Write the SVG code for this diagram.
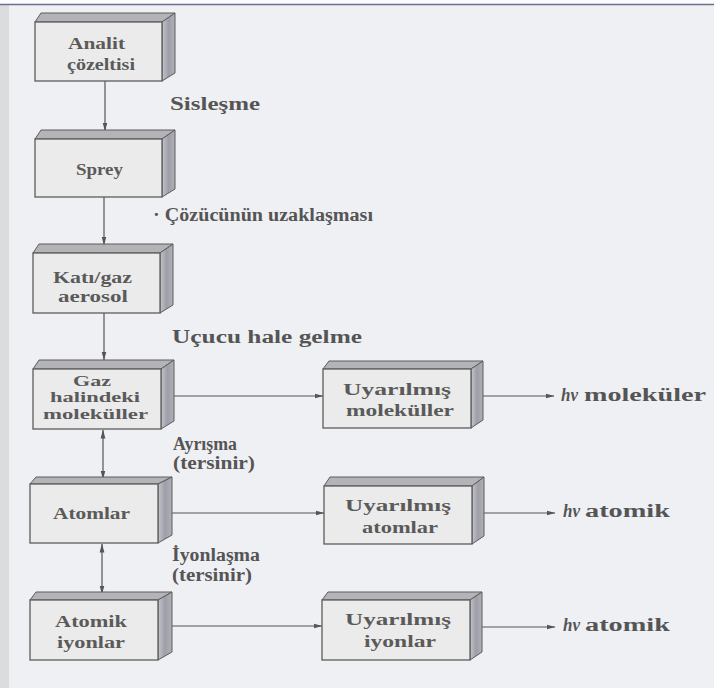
<svg xmlns="http://www.w3.org/2000/svg" width="714" height="688" viewBox="0 0 714 688">
<defs>
<style>
.front{fill:#ebebeb;stroke:#5c5c5c;stroke-width:1.3}
.top{fill:#b4b4b8;stroke:#5c5c5c;stroke-width:1}
.side{fill:url(#sideg);stroke:#5c5c5c;stroke-width:1}
.t{font-family:"Liberation Serif","Times New Roman",serif;font-weight:bold;fill:#5a5a5a;font-size:17px}
.s{font-size:15px}
.l{font-family:"Liberation Serif","Times New Roman",serif;font-weight:bold;fill:#555;font-size:18px}
.it{font-style:italic}
.c{stroke:#555;stroke-width:1.2;fill:none}
</style>
<linearGradient id="sideg" x1="0" y1="0" x2="1" y2="0">
<stop offset="0" stop-color="#c4c4cc"/>
<stop offset="0.5" stop-color="#9e9ea8"/>
<stop offset="1" stop-color="#b0b0b8"/>
</linearGradient>
<marker id="ah" markerWidth="9" markerHeight="6" refX="8.5" refY="3" orient="auto" markerUnits="userSpaceOnUse">
<path d="M0,0.6 L9,3 L0,5.4 Z" fill="#555"/>
</marker>
<marker id="as" markerWidth="9" markerHeight="6" refX="0.5" refY="3" orient="auto" markerUnits="userSpaceOnUse">
<path d="M9,0.6 L0,3 L9,5.4 Z" fill="#555"/>
</marker>
</defs>
<rect width="714" height="688" fill="#eff0f3"/>
<rect x="0" y="0" width="9" height="688" fill="#dcdcdf"/>
<rect x="0" y="0" width="714" height="4" fill="#fbfbfd"/>
<line x1="0" y1="4.5" x2="714" y2="4.5" stroke="#6e6e8c" stroke-width="1.6"/>

<g id="connectors">
<line class="c" x1="105" y1="81" x2="105" y2="131" marker-end="url(#ah)"/>
<line class="c" x1="104" y1="197" x2="104" y2="245" marker-end="url(#ah)"/>
<line class="c" x1="104" y1="313" x2="104" y2="360" marker-end="url(#ah)"/>
<line class="c" x1="103" y1="430" x2="103" y2="479" marker-start="url(#as)" marker-end="url(#ah)"/>
<line class="c" x1="102" y1="544" x2="102" y2="594" marker-start="url(#as)" marker-end="url(#ah)"/>
<line class="c" x1="174" y1="396" x2="323" y2="396" marker-end="url(#ah)"/>
<line class="c" x1="172" y1="513" x2="324" y2="513" marker-end="url(#ah)"/>
<line class="c" x1="172" y1="626" x2="322" y2="626" marker-end="url(#ah)"/>
<line class="c" x1="483" y1="396" x2="554" y2="396" marker-end="url(#ah)"/>
<line class="c" x1="484" y1="513" x2="555" y2="513" marker-end="url(#ah)"/>
<line class="c" x1="481" y1="627" x2="555" y2="627" marker-end="url(#ah)"/>
</g>

<g id="analit">
<polygon class="top" points="35,22 41,13 175,13 162,22"/>
<polygon class="side" points="162,22 175,13 175,73 162,81"/>
<rect class="front" x="35" y="22" width="127" height="59"/>
<text class="t" x="68" y="49" textLength="57" lengthAdjust="spacingAndGlyphs">Analit</text>
<text class="t" x="67" y="70" textLength="68" lengthAdjust="spacingAndGlyphs">çözeltisi</text>
</g>
<g id="sprey">
<polygon class="top" points="35,139 41,130 175,130 162,139"/>
<polygon class="side" points="162,139 175,130 175,189 162,197"/>
<rect class="front" x="35" y="139" width="127" height="58"/>
<text class="t" x="76" y="175" textLength="47" lengthAdjust="spacingAndGlyphs">Sprey</text>
</g>
<g id="kati">
<polygon class="top" points="33,253 39,244 173,244 160,253"/>
<polygon class="side" points="160,253 173,244 173,305 160,313"/>
<rect class="front" x="33" y="253" width="127" height="60"/>
<text class="t" x="53" y="283" textLength="79" lengthAdjust="spacingAndGlyphs">Katı/gaz</text>
<text class="t" x="58" y="302" textLength="70" lengthAdjust="spacingAndGlyphs">aerosol</text>
</g>
<g id="gaz">
<polygon class="top" points="33,369 39,360 174,360 161,369"/>
<polygon class="side" points="161,369 174,360 174,421 161,429"/>
<rect class="front" x="33" y="369" width="128" height="60"/>
<text class="t s" x="73" y="386" textLength="38" lengthAdjust="spacingAndGlyphs">Gaz</text>
<text class="t s" x="50" y="402" textLength="90" lengthAdjust="spacingAndGlyphs">halindeki</text>
<text class="t s" x="43" y="419" textLength="105" lengthAdjust="spacingAndGlyphs">moleküller</text>
</g>
<g id="atomlar">
<polygon class="top" points="30,484 36,477 172,477 158,484"/>
<polygon class="side" points="158,484 172,477 172,535 158,543"/>
<rect class="front" x="30" y="484" width="128" height="59"/>
<text class="t" x="53" y="519" textLength="77" lengthAdjust="spacingAndGlyphs">Atomlar</text>
</g>
<g id="atomik-iyonlar">
<polygon class="top" points="30,600 36,592 172,592 158,600"/>
<polygon class="side" points="158,600 172,592 172,652 158,660"/>
<rect class="front" x="30" y="600" width="128" height="60"/>
<text class="t" x="55" y="627" textLength="72" lengthAdjust="spacingAndGlyphs">Atomik</text>
<text class="t" x="57" y="648" textLength="68" lengthAdjust="spacingAndGlyphs">iyonlar</text>
</g>
<g id="uyarilmis-molekuller">
<polygon class="top" points="323,369 329,361 483,361 471,369"/>
<polygon class="side" points="471,369 483,361 483,420 471,428"/>
<rect class="front" x="323" y="369" width="148" height="59"/>
<text class="t" x="343" y="395" textLength="108" lengthAdjust="spacingAndGlyphs">Uyarılmış</text>
<text class="t" x="346" y="416" textLength="108" lengthAdjust="spacingAndGlyphs">moleküller</text>
</g>
<g id="uyarilmis-atomlar">
<polygon class="top" points="324,486 330,477 484,477 472,486"/>
<polygon class="side" points="472,486 484,477 484,536 472,544"/>
<rect class="front" x="324" y="486" width="148" height="58"/>
<text class="t" x="345" y="511" textLength="106" lengthAdjust="spacingAndGlyphs">Uyarılmış</text>
<text class="t" x="362" y="533" textLength="76" lengthAdjust="spacingAndGlyphs">atomlar</text>
</g>
<g id="uyarilmis-iyonlar">
<polygon class="top" points="322,600 328,592 482,592 470,600"/>
<polygon class="side" points="470,600 482,592 482,652 470,660"/>
<rect class="front" x="322" y="600" width="148" height="60"/>
<text class="t" x="345" y="625" textLength="106" lengthAdjust="spacingAndGlyphs">Uyarılmış</text>
<text class="t" x="364" y="647" textLength="72" lengthAdjust="spacingAndGlyphs">iyonlar</text>
</g>

<g id="labels">
<text class="l" x="170" y="110" textLength="90" lengthAdjust="spacingAndGlyphs">Sisleşme</text>
<text class="l" x="153" y="221" textLength="220" lengthAdjust="spacingAndGlyphs">· Çözücünün uzaklaşması</text>
<text class="l" x="172" y="343" textLength="190" lengthAdjust="spacingAndGlyphs">Uçucu hale gelme</text>
<text class="l" x="173" y="450" textLength="64" lengthAdjust="spacingAndGlyphs">Ayrışma</text>
<text class="l" x="173" y="469" textLength="82" lengthAdjust="spacingAndGlyphs">(tersinir)</text>
<text class="l" x="172" y="561" textLength="88" lengthAdjust="spacingAndGlyphs">İyonlaşma</text>
<text class="l" x="172" y="581" textLength="80" lengthAdjust="spacingAndGlyphs">(tersinir)</text>
<text class="l it" x="561" y="401" textLength="17" lengthAdjust="spacingAndGlyphs">hν</text>
<text class="l" x="584" y="401" textLength="122" lengthAdjust="spacingAndGlyphs">moleküler</text>
<text class="l it" x="563" y="517" textLength="17" lengthAdjust="spacingAndGlyphs">hν</text>
<text class="l" x="585" y="517" textLength="85" lengthAdjust="spacingAndGlyphs">atomik</text>
<text class="l it" x="563" y="631" textLength="17" lengthAdjust="spacingAndGlyphs">hν</text>
<text class="l" x="585" y="631" textLength="85" lengthAdjust="spacingAndGlyphs">atomik</text>
</g>
</svg>
